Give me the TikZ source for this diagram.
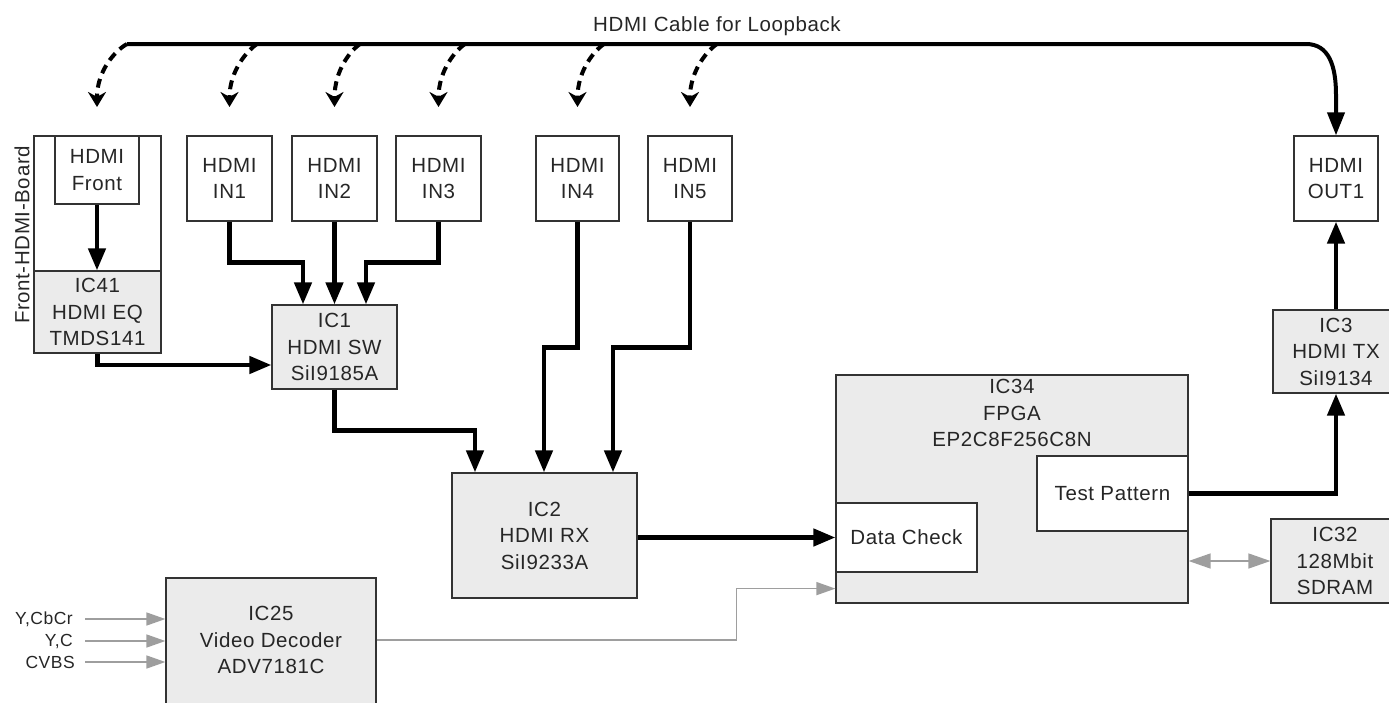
\documentclass[tikz,border=0pt]{standalone}
\usepackage{fontspec}
\setmainfont[LetterSpace=3]{Liberation Sans}
\usetikzlibrary{arrows.meta,calc}
\begin{document}
\begin{tikzpicture}[x=1pt,y=-1pt,
  txt/.style={font=\fontsize{20.5}{26.5}\selectfont, text=black!85, align=center, inner sep=0pt},
  lbl/.style={font=\fontsize{17.5}{20}\selectfont, text=black!85, inner sep=0pt},
  box/.style={txt, draw=black!80, line width=1.2pt, fill=white},
  gbox/.style={box, fill=black!8},
  conn/.style={line width=4.5pt, black, -{Triangle[length=22pt,width=17pt]}},
  loopline/.style={line width=4pt, black, -{Triangle[length=23pt,width=17pt]}},
  drop/.style={line width=4pt, black, dash pattern=on 9pt off 6pt, -{Stealth[length=15pt,width=18pt]}},
  gline/.style={line width=1.5pt, draw=black!38},
  garrow/.style={gline, -{Triangle[length=19pt,width=13pt]}},
  garrow2/.style={gline, {Triangle[length=22pt,width=15pt]}-{Triangle[length=22pt,width=15pt]}}
]
\useasboundingbox (0,0) rectangle (1389,702);

% title
\node[txt] (title) at (717,26) {HDMI Cable for Loopback};

% front board
\node[box, minimum width=127pt, minimum height=217pt] (board) at (97.5,244.5) {};
\node[gbox, minimum width=127pt, minimum height=82pt] (ic41) at (97.5,312) {IC41\\HDMI EQ\\TMDS141};
\node[box, minimum width=84pt, minimum height=68pt] (hfront) at (97,170) {HDMI\\Front};
\node[txt, rotate=90] (boardlbl) at (22,235) {Front-HDMI-Board};

% HDMI inputs / output
\node[box, minimum width=85pt, minimum height=85pt] (in1) at (229.5,178.5) {HDMI\\IN1};
\node[box, minimum width=85pt, minimum height=85pt] (in2) at (334.5,178.5) {HDMI\\IN2};
\node[box, minimum width=85pt, minimum height=85pt] (in3) at (438.5,178.5) {HDMI\\IN3};
\node[box, minimum width=83pt, minimum height=85pt] (in4) at (577.5,178.5) {HDMI\\IN4};
\node[box, minimum width=84pt, minimum height=85pt] (in5) at (690,178.5) {HDMI\\IN5};
\node[box, minimum width=84pt, minimum height=85pt] (out1) at (1336,178.5) {HDMI\\OUT1};

% ICs
\node[gbox, minimum width=125pt, minimum height=84pt] (ic1) at (334.5,347) {IC1\\HDMI SW\\SiI9185A};
\node[gbox, minimum width=185pt, minimum height=125pt] (ic2) at (544.5,535.5) {IC2\\HDMI RX\\SiI9233A};
\node[gbox, minimum width=210pt, minimum height=142pt] (ic25) at (271,649) {};
\node[txt] (ic25t) at (271,640) {IC25\\Video Decoder\\ADV7181C};
\node[gbox, minimum width=352pt, minimum height=228pt] (fpga) at (1012,489) {};
\node[txt] (fpgat) at (1012,413) {IC34\\FPGA\\EP2C8F256C8N};
\node[box, minimum width=141pt, minimum height=69pt] (dcheck) at (906.5,537.5) {Data Check};
\node[box, minimum width=151pt, minimum height=75pt] (tpat) at (1112.5,493.5) {Test Pattern};
\node[gbox, minimum width=126pt, minimum height=83pt] (ic3) at (1336,351.5) {IC3\\HDMI TX\\SiI9134};
\node[gbox, minimum width=128pt, minimum height=84pt] (ic32) at (1335,561) {IC32\\128Mbit\\SDRAM};

% analog input labels
\node[lbl, anchor=east] (yc1) at (73,619) {Y,CbCr};
\node[lbl, anchor=east] (yc2) at (73,641) {Y,C};
\node[lbl, anchor=east] (yc3) at (75,662) {CVBS};

% loopback cable
\coordinate (lstart) at (127,44);
\coordinate (lturn) at (1306,44);
\coordinate (ldown) at (1336,95);
\draw[loopline] (lstart) -- (lturn) .. controls (1329,44) and (1336,66) .. (ldown) -- (out1.north);

\coordinate (s0) at (127,44);  \coordinate (d0) at (97,107);
\coordinate (s1) at (257,44);  \coordinate (d1) at (229.5,107);
\coordinate (s2) at (360,44);  \coordinate (d2) at (334.5,107);
\coordinate (s3) at (465,44);  \coordinate (d3) at (438.5,107);
\coordinate (s4) at (604,44);  \coordinate (d4) at (577.5,107);
\coordinate (s5) at (717,44);  \coordinate (d5) at (690,107);
\draw[drop] (s0) .. controls (116,50) and (97,70) .. (d0);
\draw[drop] (s1) .. controls (248,50) and (229.5,70) .. (d1);
\draw[drop] (s2) .. controls (351,50) and (334.5,70) .. (d2);
\draw[drop] (s3) .. controls (456,50) and (438.5,70) .. (d3);
\draw[drop] (s4) .. controls (595,50) and (577.5,70) .. (d4);
\draw[drop] (s5) .. controls (708,50) and (690,70) .. (d5);

% digital connections
\draw[conn] (hfront.south) -- (hfront.south |- ic41.north);
\draw[conn] (ic41.south) |- ([yshift=-18pt]ic1.west);
\draw[conn] (in1.south) -- ++(0,41) -| ([xshift=-31.5pt]ic1.north);
\draw[conn] (in2.south) -- (ic1.north);
\draw[conn] (in3.south) -- ++(0,41) -| ([xshift=31.5pt]ic1.north);
\draw[conn] (ic1.south) -- ++(0,41) -| ([xshift=-69.5pt]ic2.north);
\draw[conn] (in4.south) -- ++(0,126) -| ([xshift=-0.5pt]ic2.north);
\draw[conn] (in5.south) -- ++(0,126) -| ([xshift=68.5pt]ic2.north);
\draw[conn] (ic2.east |- dcheck.west) -- (dcheck.west);
\draw[conn] (tpat.east) -| (ic3.south);
\draw[conn] (ic3.north) -- (out1.south);

% grey connections
\draw[garrow2] (fpga.east |- ic32.west) -- (ic32.west);
\draw[garrow] ([xshift=12pt]yc1.east) -- (ic25.west |- yc1.east);
\draw[garrow] ([xshift=12pt]yc2.east) -- (ic25.west |- yc2.east);
\draw[garrow] ([xshift=10pt]yc3.east) -- (ic25.west |- yc3.east);
\draw[garrow] ([yshift=9pt]ic25.east) -- ++(360,0) |- ([yshift=15pt]fpga.south west);
\end{tikzpicture}
\end{document}
